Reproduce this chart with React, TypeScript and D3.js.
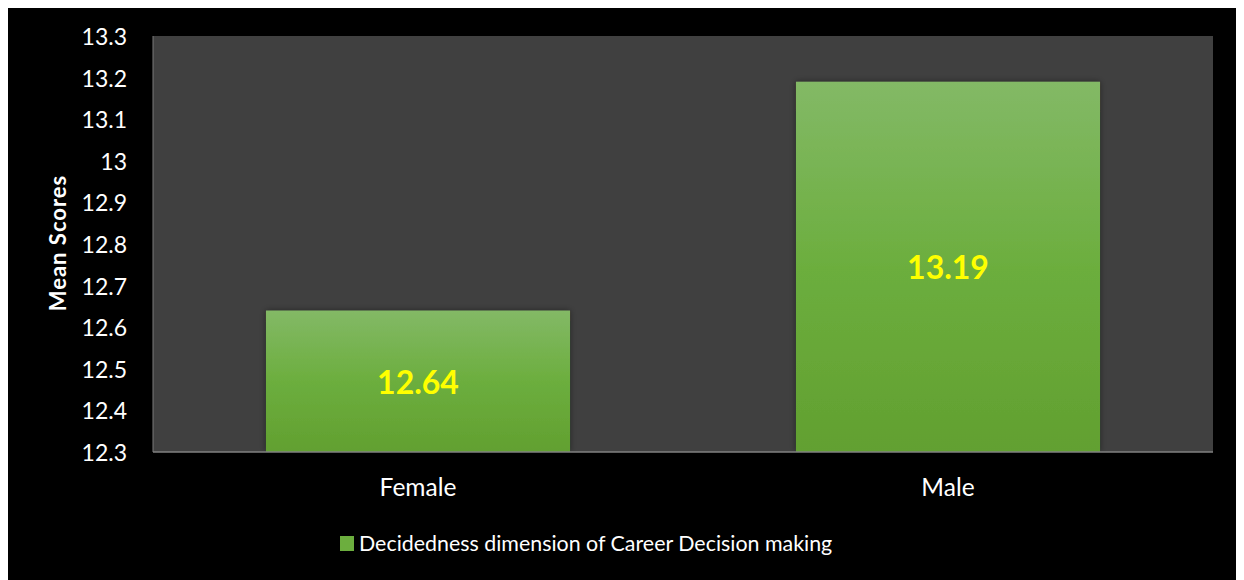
import React from "react";
import * as d3 from "d3";

const categories = ["Female", "Male"];
const values = [12.64, 13.19];
const yTicks = [12.3, 12.4, 12.5, 12.6, 12.7, 12.8, 12.9, 13, 13.1, 13.2, 13.3];
const seriesName = "Decidedness dimension of Career Decision making";
const yTitle = "Mean Scores";

const W = 1236;
const H = 572;
const plot = { left: 145, right: 1205, top: 28, bottom: 444 };
const FONT = "Lato, 'Open Sans', sans-serif";

export default function App() {
  const x = d3
    .scaleBand<string>()
    .domain(categories)
    .range([plot.left, plot.right])
    .paddingInner(0.4264)
    .paddingOuter(0.2132);
  const y = d3.scaleLinear().domain([12.3, 13.3]).range([plot.bottom, plot.top]);

  return (
    <svg width={W} height={H} style={{ display: "block", background: "#000" }} fontFamily={FONT}>
      <defs>
        <linearGradient id="barGrad" x1="0" y1="0" x2="0" y2="1">
          <stop offset="0%" stopColor="#83b966" />
          <stop offset="50%" stopColor="#6cae3e" />
          <stop offset="100%" stopColor="#62a030" />
        </linearGradient>
        <filter id="shadow" x="-5%" y="-5%" width="110%" height="110%">
          <feDropShadow dx="0" dy="0" stdDeviation="3" floodColor="#000" floodOpacity="0.45" />
        </filter>
      </defs>
      <rect x={0} y={0} width={W} height={H} fill="#000" />
      <rect
        x={plot.left}
        y={plot.top}
        width={plot.right - plot.left}
        height={plot.bottom - plot.top}
        fill="#404040"
      />
      <line x1={plot.left} x2={plot.left} y1={plot.top} y2={plot.bottom} stroke="#7a7a7a" strokeWidth={1} />
      {categories.map((c, i) => (
        <g key={c}>
          <rect
            x={x(c)!}
            y={y(values[i])}
            width={x.bandwidth()}
            height={plot.bottom - y(values[i])}
            fill="url(#barGrad)"
            filter="url(#shadow)"
          />
          <text
            x={x(c)! + x.bandwidth() / 2}
            y={(y(values[i]) + plot.bottom) / 2}
            textAnchor="middle"
            dominantBaseline="central"
            fill="#ffff00"
            fontWeight="bold"
            fontSize={32}
          >
            {values[i].toFixed(2)}
          </text>
          <text
            x={x(c)! + x.bandwidth() / 2}
            y={478}
            textAnchor="middle"
            dominantBaseline="central"
            fill="#fff"
            fontSize={24.5}
          >
            {c}
          </text>
        </g>
      ))}
      <line x1={plot.left} x2={plot.right} y1={plot.bottom} y2={plot.bottom} stroke="#808080" strokeWidth={1.5} />
      {yTicks.map((t) => (
        <text
          key={t}
          x={119}
          y={y(t)}
          textAnchor="end"
          dominantBaseline="central"
          fill="#fff"
          fontSize={23}
        >
          {d3.format("")(Number(t.toFixed(1)))}
        </text>
      ))}
      <text
        transform={`translate(49,235) rotate(-90)`}
        textAnchor="middle"
        dominantBaseline="central"
        fill="#fff"
        fontWeight="bold"
        fontSize={22}
        letterSpacing={1}
      >
        {yTitle}
      </text>
      <g>
        <rect x={332} y={528} width={14} height={15} fill="#6cae3e" />
        <text x={351} y={535} dominantBaseline="central" fill="#fff" fontSize={21.4}>
          {seriesName}
        </text>
      </g>
    </svg>
  );
}
